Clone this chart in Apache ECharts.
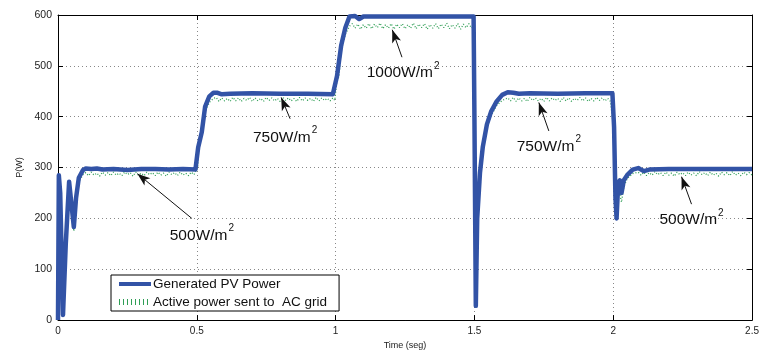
<!DOCTYPE html>
<html>
<head>
<meta charset="utf-8">
<script src="https://cdn.jsdelivr.net/npm/echarts@6/dist/echarts.min.js"></script>
<style>html,body{margin:0;padding:0;background:#fff}#c{width:762px;height:355px}</style>
</head>
<body>
<div id="c"></div>
<script>
// ---- Data ----
var seriesNames = ['Generated PV Power', 'Active power sent to  AC grid'];
var xTicks = [0, 0.5, 1, 1.5, 2, 2.5];
var yTicks = [0, 100, 200, 300, 400, 500, 600];

// Generated PV power [time (s), power (W)]
var pvPower = [
  [0,0],[0.003,285],[0.008,250],[0.018,10],[0.028,150],[0.04,272],[0.05,220],[0.057,183],[0.065,240],[0.075,280],[0.09,295],
  [0.1,298],[0.12,297],[0.14,298],[0.16,296],[0.2,297],[0.25,295],[0.3,297],[0.35,297],[0.4,296],[0.45,297],[0.495,296],
  [0.505,340],[0.512,342],[0.518,370],[0.53,420],[0.545,440],[0.56,447],[0.575,447],[0.59,444],[0.62,445],[0.7,446],[0.8,445],[0.9,445],[0.99,444],
  [1.005,480],[1.012,482],[1.02,540],[1.035,575],[1.05,597],[1.07,598],[1.085,592],[1.1,597],[1.2,597],[1.3,597],[1.4,597],[1.497,597],
  [1.5,400],[1.505,28],[1.51,200],[1.52,290],[1.53,340],[1.545,385],[1.56,410],[1.58,430],[1.6,443],[1.62,448],[1.64,447],[1.66,445],[1.7,446],[1.8,445],[1.9,446],[1.997,446],
  [2.003,380],[2.008,240],[2.012,200],[2.018,270],[2.024,275],[2.03,250],[2.038,275],[2.05,285],[2.07,296],[2.09,299],[2.11,293],[2.13,296],[2.2,297],[2.3,297],[2.4,297],[2.5,297]
];

// Active power sent to AC grid [time (s), power (W)], by segment
var acStart = [[0,0],[0.003,280],[0.008,240],[0.018,14],[0.028,150],[0.04,266],[0.05,212],[0.057,175],[0.065,232],[0.075,272],[0.09,286]];
var ac500a = [[0.10,290],[0.11,284],[0.12,291],[0.13,285],[0.14,289],[0.15,283],[0.16,291],[0.17,285],[0.18,290],[0.19,284],[0.20,291],[0.21,285],[0.22,289],[0.23,284],[0.24,291],[0.25,286],[0.26,290],[0.27,283],[0.28,291],[0.29,285],[0.30,289],[0.31,284],[0.32,291],[0.33,286],[0.34,290],[0.35,284],[0.36,291],[0.37,285],[0.38,289],[0.39,283],[0.40,291],[0.41,286],[0.42,290],[0.43,284],[0.44,291],[0.45,285],[0.46,289],[0.47,284],[0.48,291],[0.49,286],[0.497,287]];
var acStep1 = [[0.503,300],[0.507,338],[0.513,338],[0.518,362],[0.53,410],[0.545,428],[0.56,436]];
var ac750a = [[0.57,438],[0.58,430],[0.59,437],[0.60,431],[0.61,436],[0.62,430],[0.63,438],[0.64,431],[0.65,437],[0.66,430],[0.67,436],[0.68,432],[0.69,438],[0.70,430],[0.71,437],[0.72,431],[0.73,436],[0.74,430],[0.75,438],[0.76,432],[0.77,437],[0.78,431],[0.79,436],[0.80,430],[0.81,438],[0.82,432],[0.83,437],[0.84,431],[0.85,436],[0.86,430],[0.87,438],[0.88,431],[0.89,437],[0.90,432],[0.91,436],[0.92,430],[0.93,438],[0.94,431],[0.95,437],[0.96,432],[0.97,436],[0.98,431],[0.99,437],[0.997,432]];
var acStep2 = [[1.004,470],[1.012,478],[1.02,530],[1.035,562],[1.05,578]];
var ac1000 = [[1.06,583],[1.07,574],[1.08,582],[1.09,572],[1.10,581],[1.11,574],[1.12,583],[1.13,573],[1.14,582],[1.15,575],[1.16,584],[1.17,573],[1.18,581],[1.19,574],[1.20,583],[1.21,572],[1.22,582],[1.23,575],[1.24,583],[1.25,573],[1.26,581],[1.27,574],[1.28,584],[1.29,573],[1.30,582],[1.31,575],[1.32,583],[1.33,572],[1.34,581],[1.35,574],[1.36,583],[1.37,573],[1.38,582],[1.39,575],[1.40,584],[1.41,573],[1.42,581],[1.43,574],[1.44,583],[1.45,572],[1.46,582],[1.47,575],[1.48,583],[1.49,574],[1.497,578]];
var acStep3 = [[1.501,380],[1.506,30],[1.511,195],[1.52,282],[1.53,332],[1.545,378],[1.56,402],[1.58,422],[1.6,432],[1.62,437]];
var ac750b = [[1.63,431],[1.64,438],[1.65,430],[1.66,437],[1.67,431],[1.68,436],[1.69,430],[1.70,438],[1.71,432],[1.72,437],[1.73,431],[1.74,436],[1.75,430],[1.76,438],[1.77,431],[1.78,437],[1.79,432],[1.80,436],[1.81,430],[1.82,438],[1.83,431],[1.84,437],[1.85,430],[1.86,436],[1.87,432],[1.88,438],[1.89,431],[1.90,437],[1.91,430],[1.92,436],[1.93,431],[1.94,438],[1.95,432],[1.96,437],[1.97,431],[1.98,436],[1.99,430],[1.997,433]];
var acStep4 = [[2.003,370],[2.008,238],[2.012,205],[2.018,262],[2.024,262],[2.03,232],[2.038,262],[2.05,278],[2.07,288],[2.09,291]];
var ac500b = [[2.10,285],[2.11,291],[2.12,284],[2.13,290],[2.14,285],[2.15,292],[2.16,286],[2.17,290],[2.18,284],[2.19,291],[2.20,285],[2.21,289],[2.22,283],[2.23,291],[2.24,286],[2.25,290],[2.26,284],[2.27,291],[2.28,285],[2.29,289],[2.30,284],[2.31,292],[2.32,286],[2.33,290],[2.34,284],[2.35,291],[2.36,285],[2.37,289],[2.38,283],[2.39,291],[2.40,286],[2.41,290],[2.42,284],[2.43,292],[2.44,285],[2.45,289],[2.46,284],[2.47,291],[2.48,286],[2.49,290],[2.50,285]];

// Annotations: label text, label anchor [t, P], arrow tail [t, P], arrow head [t, P]
var annLabels = ['500', '750', '1000', '750', '500'];
var annTextPos = [[0.518,170],[0.818,363],[1.243,490],[1.768,345],[2.282,201]];
var annArrowFrom = [[0.482,200],[0.836,396],[1.239,517],[1.768,372],[2.282,228]];
var annArrowTo = [[0.286,288],[0.804,438],[1.204,571],[1.732,428],[2.246,282]];

// ---- Build ----
var acPower = [].concat(acStart, ac500a, acStep1, ac750a, acStep2, ac1000, acStep3, ac750b, acStep4, ac500b);
var FONT = 'Liberation Sans, Arial, sans-serif';

var markPts = annLabels.map(function (l, i) {
  return {
    coord: annTextPos[i],
    symbolSize: 0,
    label: {
      show: true, position: 'inside',
      formatter: '{a|' + l + 'W/m}{s|2}',
      rich: {
        a: {fontSize: 15.5, fontFamily: FONT, color: '#111', verticalAlign: 'bottom', lineHeight: 20},
        s: {fontSize: 10, fontFamily: FONT, color: '#111', verticalAlign: 'top', lineHeight: 20, padding: [0, 0, 0, 1]}
      }
    }
  };
});
var markLns = annArrowFrom.map(function (f, i) {
  return [{coord: f, symbol: 'none'}, {coord: annArrowTo[i], symbol: 'arrow', symbolSize: [7, 13]}];
});

var chart = echarts.init(document.getElementById('c'), null, {renderer: 'canvas'});
var axCommonX = {
  type: 'value', min: 0, max: 2.5, interval: 0.5
};
chart.setOption({
  animation: false,
  backgroundColor: '#fff',
  grid: {left: 58, right: 4, top: 15, bottom: 29, show: false},
  legend: {
    data: [
      {name: seriesNames[0], itemStyle: {opacity: 0}, lineStyle: {width: 4, color: '#3253a6'}},
      {name: seriesNames[1], itemStyle: {opacity: 0}, lineStyle: {width: 6, color: '#2f9e55', type: [1, 3]}}
    ],
    orient: 'vertical',
    left: 111, top: 275,
    padding: [2, 12, 2, 5],
    itemGap: 4,
    itemWidth: 32, itemHeight: 16,
    backgroundColor: '#fff',
    borderColor: '#000', borderWidth: 1,
    textStyle: {fontFamily: FONT, fontSize: 13.5, color: '#111', padding: [0, 0, 0, -3]}
  },
  xAxis: [
    Object.assign({}, axCommonX, {
      position: 'bottom',
      name: 'Time (seg)', nameLocation: 'middle', nameGap: 17,
      nameTextStyle: {fontFamily: FONT, fontSize: 9, color: '#222'},
      axisLine: {show: true, onZero: false, lineStyle: {color: '#000', width: 1}},
      axisTick: {show: true, inside: true, length: 5, lineStyle: {color: '#000'}},
      axisLabel: {fontFamily: FONT, fontSize: 10, color: '#222', margin: 6,
        formatter: function (v) { return xTicks.indexOf(v) >= 0 ? String(v) : ''; }},
      splitLine: {show: true, lineStyle: {color: '#888', type: [1, 3], width: 1}}
    }),
    Object.assign({}, axCommonX, {
      position: 'top',
      axisLine: {show: true, onZero: false, lineStyle: {color: '#000', width: 1}},
      axisTick: {show: true, inside: true, length: 5, lineStyle: {color: '#000'}},
      axisLabel: {show: false}, splitLine: {show: false}
    })
  ],
  yAxis: [
    {
      type: 'value', min: 0, max: 600, interval: 100, position: 'left',
      name: 'P(W)', nameLocation: 'middle', nameGap: 33, nameRotate: 90,
      nameTextStyle: {fontFamily: FONT, fontSize: 9, color: '#222'},
      axisLine: {show: true, onZero: false, lineStyle: {color: '#000', width: 1}},
      axisTick: {show: true, inside: true, length: 5, lineStyle: {color: '#000'}},
      axisLabel: {fontFamily: FONT, fontSize: 10.5, color: '#222', margin: 6,
        formatter: function (v) { return yTicks.indexOf(v) >= 0 ? String(v) : ''; }},
      splitLine: {show: true, lineStyle: {color: '#888', type: [1, 3], width: 1}}
    },
    {
      type: 'value', min: 0, max: 600, interval: 100, position: 'right',
      axisLine: {show: true, onZero: false, lineStyle: {color: '#000', width: 1}},
      axisTick: {show: true, inside: true, length: 5, lineStyle: {color: '#000'}},
      axisLabel: {show: false}, splitLine: {show: false}
    }
  ],
  series: [
    {
      name: seriesNames[1], type: 'line', data: acPower, showSymbol: false, symbol: 'none',
      z: 2, silent: true,
      color: '#2f9e55',
      lineStyle: {color: '#2f9e55', width: 1.3, type: [1, 2]}
    },
    {
      name: seriesNames[0], type: 'line', data: pvPower, showSymbol: false, symbol: 'none',
      z: 3, silent: true,
      color: '#3253a6',
      lineStyle: {color: '#3253a6', width: 4.5, join: 'round'},
      markPoint: {silent: true, data: markPts},
      markLine: {silent: true, symbol: ['none', 'arrow'], label: {show: false},
        lineStyle: {color: '#111', width: 1, type: 'solid'}, emphasis: {disabled: true},
        data: markLns}
    }
  ]
});
</script>
</body>
</html>
